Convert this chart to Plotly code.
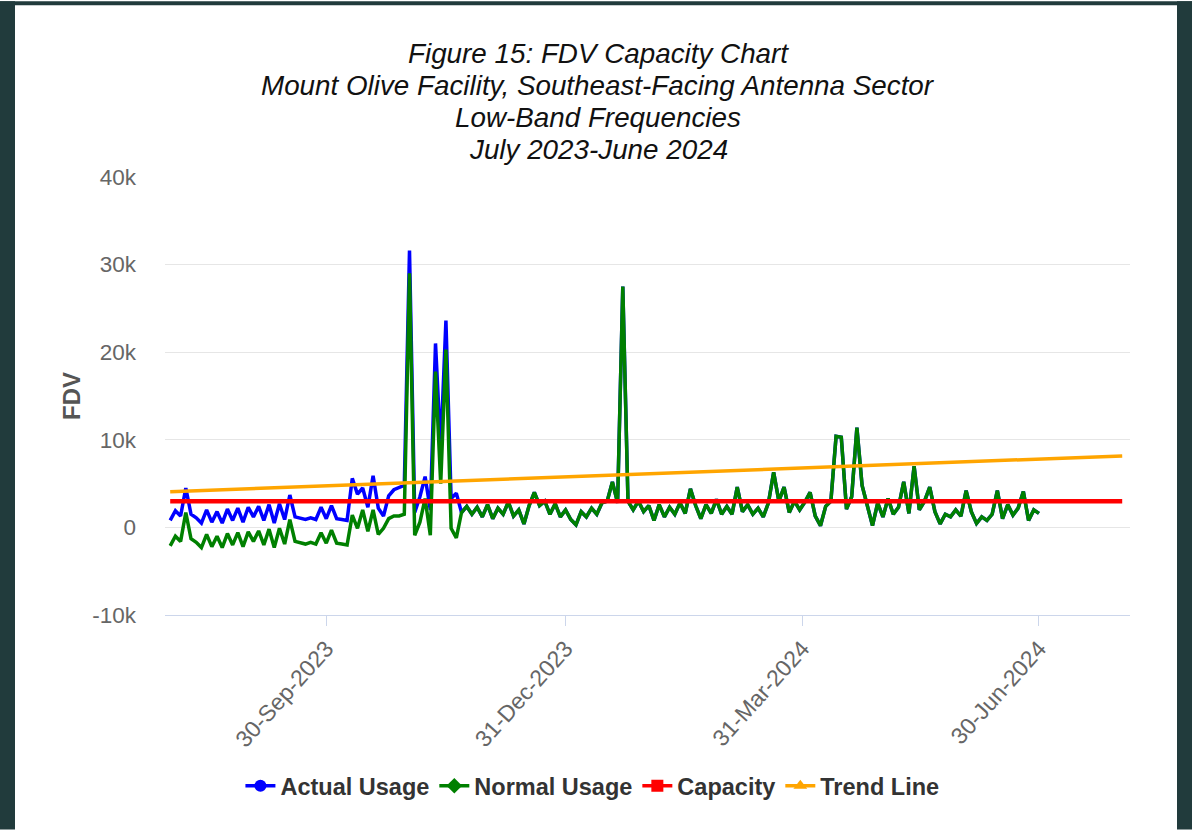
import plotly.graph_objects as go
import pandas as pd

# ---------------- data ----------------
start_date = "2023-08-01"
step_days = 2

actual_usage = [
    800, 1900, 1300, 4500, 1500, 1100, 500, 2000, 600, 1800,
    500, 2100, 800, 2200, 600, 2300, 1200, 2400, 800, 2600,
    500, 2700, 900, 3700, 1200, 1000, 900, 1100, 900, 2300,
    1000, 2500, 1000, 900, 800, 5600, 3800, 4500, 2300, 5900,
    2200, 1300, 3600, 4300, 4500, 4800, 31600, 1700, 3500, 5800,
    2000, 21000, 9000, 23600, 3300, 3900, 1700, 2400, 1500, 2300,
    1200, 2600, 1000, 2200, 1500, 2900, 1300, 2000, 400, 2500,
    4000, 2500, 3000, 1500, 2700, 1200, 2000, 900, 300, 1800,
    1200, 2200, 1500, 2800, 3000, 5200, 2800, 27500, 3000, 2000,
    3000, 1800, 2500, 800, 2600, 1200, 2300, 1500, 2800, 1600,
    4400, 2500, 1000, 2600, 1600, 3200, 1500, 2400, 1500, 4600,
    1800, 2600, 1500, 2200, 1200, 2800, 6300, 3000, 4600, 1700,
    3000, 2000, 2900, 4000, 1300, 200, 2400, 3000, 10400, 10300,
    2100, 3500, 11400, 4800, 2500, 200, 2800, 1200, 3300, 1500,
    2300, 5200, 1600, 7000, 2000, 3000, 4600, 1800, 400, 1500,
    1200, 2000, 1300, 4200, 1800, 450, 1200, 800, 1500, 4200,
    1000, 2600, 1400, 2200, 4100, 800, 2000, 1600,
]

normal_usage = [
    -2100, -1000, -1600, 1700, -1300, -1700, -2300, -800, -2200, -1000,
    -2300, -700, -2000, -600, -2200, -500, -1600, -400, -2000, -200,
    -2300, -100, -1900, 900, -1600, -1800, -1900, -1700, -1900, -600,
    -1800, -300, -1800, -1900, -2000, 1400, -100, 2000, -450, 2000,
    -800, -100, 1000, 1300, 1300, 1500, 29000, -900, 600, 3300,
    -900, 17800, 5000, 20300, -100, -1200, 1700, 2400, 1500, 2300,
    1200, 2600, 1000, 2200, 1500, 2900, 1300, 2000, 400, 2500,
    4000, 2500, 3000, 1500, 2700, 1200, 2000, 900, 300, 1800,
    1200, 2200, 1500, 2800, 3000, 5200, 2800, 27500, 3000, 2000,
    3000, 1800, 2500, 800, 2600, 1200, 2300, 1500, 2800, 1600,
    4400, 2500, 1000, 2600, 1600, 3200, 1500, 2400, 1500, 4600,
    1800, 2600, 1500, 2200, 1200, 2800, 6300, 3000, 4600, 1700,
    3000, 2000, 2900, 4000, 1300, 200, 2400, 3000, 10400, 10300,
    2100, 3500, 11400, 4800, 2500, 200, 2800, 1200, 3300, 1500,
    2300, 5200, 1600, 7000, 2000, 3000, 4600, 1800, 400, 1500,
    1200, 2000, 1300, 4200, 1800, 450, 1200, 800, 1500, 4200,
    1000, 2600, 1400, 2200, 4100, 800, 2000, 1600,
]

line_dates = ["2023-08-01", "2024-08-01"]
capacity_values = [3000, 3000]
trend_values = [4080, 8160]

x_tick_dates = ["2023-09-30", "2023-12-31", "2024-03-31", "2024-06-30"]
x_tick_labels = ["30-Sep-2023", "31-Dec-2023", "31-Mar-2024", "30-Jun-2024"]
y_tick_values = [-10000, 0, 10000, 20000, 30000, 40000]
y_tick_labels = ["-10k", "0", "10k", "20k", "30k", "40k"]

title_lines = [
    "Figure 15: FDV Capacity Chart",
    "Mount Olive Facility, Southeast-Facing Antenna Sector",
    "Low-Band Frequencies",
    "July 2023-June 2024",
]

series_names = ["Actual Usage", "Normal Usage", "Capacity", "Trend Line"]
series_colors = ["#0000ff", "#008000", "#ff0000", "#ffa500"]
legend_symbols = ["circle", "diamond", "square", "triangle-up"]

dates = pd.date_range(start_date, periods=len(actual_usage), freq=f"{step_days}D")

FONT = "Liberation Sans, Arial, sans-serif"
W, H = 1192, 834
L, R, T, B = 165, 62, 177, 216

fig = go.Figure()

fig.add_trace(go.Scatter(x=dates, y=actual_usage, mode="lines", name=series_names[0],
                         line=dict(color=series_colors[0], width=3.5), showlegend=False,
                         legendgroup="a"))
fig.add_trace(go.Scatter(x=dates, y=normal_usage, mode="lines", name=series_names[1],
                         line=dict(color=series_colors[1], width=3.5), showlegend=False,
                         legendgroup="b"))
fig.add_trace(go.Scatter(x=pd.to_datetime(line_dates), y=capacity_values, mode="lines",
                         name=series_names[2], line=dict(color=series_colors[2], width=4.5),
                         showlegend=False, legendgroup="c"))
fig.add_trace(go.Scatter(x=pd.to_datetime(line_dates), y=trend_values, mode="lines",
                         name=series_names[3], line=dict(color=series_colors[3], width=3.5),
                         showlegend=False, legendgroup="d"))

# legend-only entries (line + marker symbol, like the original legend)
for name, color, sym, grp in zip(series_names, series_colors, legend_symbols, "abcd"):
    fig.add_trace(go.Scatter(x=[None], y=[None], mode="lines+markers", name=name,
                             line=dict(color=color, width=3.5),
                             marker=dict(symbol=sym, size=12, color=color),
                             legendgroup=grp, showlegend=True))

px_x = lambda X: (X - L) / (W - L - R)
px_y = lambda Y: (H - B - Y) / (H - T - B)

# multi-line italic title, one annotation per line
title_centers = [53, 85, 117, 149]
annotations = [
    dict(text=t, x=px_x(598), y=px_y(yc), xref="paper", yref="paper",
         xanchor="center", yanchor="middle", showarrow=False,
         font=dict(family=FONT, size=27.8, color="#111111", style="italic"))
    for t, yc in zip(title_lines, title_centers)
]

fig.update_layout(
    width=W, height=H,
    margin=dict(l=L, r=R, t=T, b=B),
    paper_bgcolor="#ffffff",
    plot_bgcolor="#ffffff",
    font=dict(family=FONT, color="#666666"),
    annotations=annotations,
    showlegend=True,
    legend=dict(
        orientation="h", x=0.497, xref="container", xanchor="center",
        y=(H - 786) / H, yref="container", yanchor="middle",
        font=dict(family=FONT, size=23.5, color="#333333", weight="bold"),
        itemclick=False, itemdoubleclick=False, bgcolor="rgba(0,0,0,0)",
    ),
    hovermode=False,
)

fig.update_xaxes(
    type="date",
    range=["2023-07-30", "2024-08-04"],
    tickvals=pd.to_datetime(x_tick_dates), ticktext=x_tick_labels,
    tickangle=-48,
    tickfont=dict(family=FONT, size=23, color="#666666"),
    showgrid=False, zeroline=False,
    showline=True, linecolor="#ccd6eb", linewidth=1,
    ticks="outside", ticklen=10, tickcolor="#ccd6eb", tickwidth=1,
)

fig.update_yaxes(
    range=[-10000, 40000],
    tickvals=y_tick_values, ticktext=y_tick_labels,
    tickfont=dict(family=FONT, size=22.5, color="#666666"),
    showgrid=True, gridcolor="#e6e6e6", gridwidth=1,
    zeroline=False, showline=False, ticks="",
    ticklabelstandoff=28,
    title=dict(text="FDV", font=dict(family=FONT, size=24, color="#555555", weight="bold"),
               standoff=4),
)

# dark frame around the white page (as in the screenshot)
frame = "#213b3c"
fig.add_shape(type="rect", xref="paper", yref="paper", x0=px_x(0), x1=px_x(15),
              y0=px_y(H), y1=px_y(0), fillcolor=frame, line_width=0, layer="below")
fig.add_shape(type="rect", xref="paper", yref="paper", x0=px_x(0), x1=px_x(W),
              y0=px_y(4), y1=px_y(0), fillcolor=frame, line_width=0, layer="below")
fig.add_shape(type="rect", xref="paper", yref="paper", x0=px_x(1177), x1=px_x(W),
              y0=px_y(H), y1=px_y(0), fillcolor=frame, line_width=0, layer="below")

fig.write_html(
    "out.html",
    config={"displayModeBar": False},
    post_script="document.body.style.margin='0px';document.body.style.overflow='hidden';",
)
